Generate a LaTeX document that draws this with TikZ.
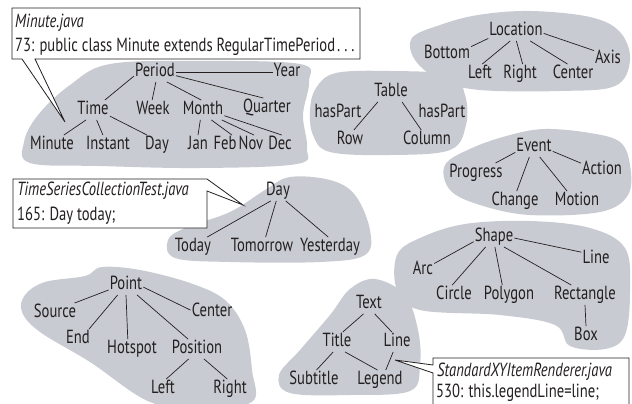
\documentclass[tikz,border=0pt]{standalone}
\usepackage{fontspec}
\setmainfont{PT Sans}[FakeStretch=0.77]
\definecolor{blobgray}{RGB}{201,203,210}
\definecolor{ink}{RGB}{35,31,32}
\begin{document}
\begin{tikzpicture}[x=1pt,y=-1pt,
  every node/.style={font=\fontsize{19}{23}\selectfont, text=ink, inner xsep=1pt, inner ysep=1pt, text height=13.5pt, text depth=4pt},
  blob/.style={fill=blobgray},
  edge/.style={line width=0.7pt, draw=ink},
  callout/.style={fill=white, draw=ink, line width=0.8pt, line join=miter},
  boxtext/.style={anchor=base west, inner sep=0pt}]
\useasboundingbox (0,0) rectangle (632,404);

% ---------- blobs ----------
\fill[blob] plot[smooth cycle, tension=0.6] coordinates {(110,64) (200,61) (300,64) (309,82) (303,115) (307,148) (297,164) (200,168) (100,166) (30,163) (24,142) (38,115) (70,85)};
\fill[blob] plot[smooth cycle, tension=0.6] coordinates {(316,88) (336,73) (390,71) (450,75) (465,95) (466,125) (450,150) (390,155) (330,152) (313,135) (310,110)};
\fill[blob] plot[smooth cycle, tension=0.6] coordinates {(412,38) (440,25) (478,15) (530,11) (590,17) (620,32) (630,60) (615,86) (560,91) (480,90) (440,80) (415,60)};
\fill[blob] plot[smooth cycle, tension=0.6] coordinates {(445,165) (472,148) (510,135) (545,129) (590,133) (620,142) (630,165) (628,195) (600,212) (530,215) (480,205) (450,190)};
\fill[blob] plot[smooth cycle, tension=0.6] coordinates {(168,240) (185,228) (230,212) (265,190) (290,177) (330,180) (355,195) (370,230) (365,255) (320,262) (230,262) (175,258)};
\fill[blob] plot[smooth cycle, tension=0.6] coordinates {(25,295) (45,282) (85,276) (102,267) (140,270) (190,283) (225,300) (245,330) (252,370) (252,402) (200,406) (150,402) (90,362) (40,332) (22,312)};
\fill[blob] plot[smooth cycle, tension=0.6] coordinates {(397,255) (420,238) (465,224) (530,221) (590,228) (625,248) (630,290) (625,335) (605,349) (570,346) (555,325) (500,315) (420,310) (397,290)};
\fill[blob] plot[smooth cycle, tension=0.6] coordinates {(350,289) (375,279) (405,295) (418,330) (420,365) (410,391) (350,395) (290,393) (279,375) (300,350) (330,315)};

% ---------- Period tree ----------
\node (Period) at (155,72) {Period};
\node (Year) at (287,72) {Year};
\node (Time) at (93,110) {Time};
\node (Week) at (153,110) {Week};
\node (Month) at (203,110) {Month};
\node (Quarter) at (267,108) {Quarter};
\node (Minute) at (52,145) {Minute};
\node (Instant) at (108,145) {Instant};
\node (DayP) at (157,145) {Day};
\node (Jan) at (198,145) {Jan};
\node (Feb) at (225,145) {Feb};
\node (Nov) at (251,145) {Nov};
\node (Dec) at (280,145) {Dec};
\draw[edge] (Period.east) -- (Year.west);
\draw[edge] (Period.-169) -- (Time.40);
\draw[edge] (Period.-85) -- (Week.95);
\draw[edge] (Period.-40) -- (Month.100);
\draw[edge] (Period.-10) -- (Quarter.110);
\draw[edge] (Time.-125) -- (Minute.40);
\draw[edge] (Time.-70) -- (Instant.117);
\draw[edge] (Time.-20) -- (DayP.135);
\draw[edge] (Month.-105) -- (Jan.90);
\draw[edge] (Month.-50) -- (Feb.55);
\draw[edge] (Month.-28) -- (Nov.73);
\draw[edge] (Month.-15) -- (Dec.80);

% ---------- Table tree ----------
\node (Table) at (391,92) {Table};
\node (hasPartL) at (338,113) {hasPart};
\node (hasPartR) at (442,113) {hasPart};
\node (Row) at (350,140) {Row};
\node (Column) at (427,140) {Column};
\draw[edge] (Table.-143) -- (Row.69);
\draw[edge] (Table.-42) -- (Column.120);

% ---------- Location tree ----------
\node (Location) at (516,31) {Location};
\node (Bottom) at (447,54) {Bottom};
\node (Axis) at (608,59) {Axis};
\node (LLeft) at (480,74) {Left};
\node (LRight) at (520,74) {Right};
\node (LCenter) at (573,74) {Center};
\draw[edge] (Location.-165) -- (Bottom.17);
\draw[edge] (Location.-120) -- (LLeft.77);
\draw[edge] (Location.-88) -- (LRight.75);
\draw[edge] (Location.-35) -- (LCenter.119);
\draw[edge] (Location.-5) -- (Axis.149);

% ---------- Event tree ----------
\node (Event) at (534,147) {Event};
\node (Progress) at (476,173) {Progress};
\node (Action) at (602,170) {Action};
\node (Change) at (515,201) {Change};
\node (Motion) at (577,201) {Motion};
\draw[edge] (Event.-164) -- (Progress.27);
\draw[edge] (Event.-115) -- (Change.80);
\draw[edge] (Event.-60) -- (Motion.135);
\draw[edge] (Event.-13) -- (Action.162);

% ---------- Day tree ----------
\node (DayT) at (278,191) {Day};
\node (Today) at (193,247) {Today};
\node (Tomorrow) at (262,247) {Tomorrow};
\node (Yesterday) at (330,247) {Yesterday};
\draw[edge] (DayT.-126) -- (Today.35);
\draw[edge] (DayT.-100) -- (Tomorrow.70);
\draw[edge] (DayT.-52) -- (Yesterday.100);

% ---------- Point tree ----------
\node (Point) at (126,285) {Point};
\node (Source) at (55,313) {Source};
\node (PCenter) at (212,312) {Center};
\node (End) at (78,339) {End};
\node (Hotspot) at (132,349) {Hotspot};
\node (Position) at (197,349) {Position};
\node (PLeft) at (163,389) {Left};
\node (PRight) at (230,389) {Right};
\draw[edge] (Point.-164) -- (Source.27);
\draw[edge] (Point.-130) -- (End.42);
\draw[edge] (Point.-90) -- (Hotspot.113);
\draw[edge] (Point.-42) -- (Position.132);
\draw[edge] (Point.-7) -- (PCenter.175);
\draw[edge] (Position.-130) -- (PLeft.72);
\draw[edge] (Position.-55) -- (PRight.105);

% ---------- Shape tree ----------
\node (Shape) at (494,237) {Shape};
\node (SLine) at (596,259) {Line};
\node (Arc) at (423,270) {Arc};
\node (Circle) at (454,295) {Circle};
\node (Polygon) at (509,295) {Polygon};
\node (Rectangle) at (585,295) {Rectangle};
\node (Box) at (586,336) {Box};
\draw[edge] (Shape.-167) -- (Arc.30);
\draw[edge] (Shape.-130) -- (Circle.100);
\draw[edge] (Shape.-85) -- (Polygon.124);
\draw[edge] (Shape.-45) -- (Rectangle.144);
\draw[edge] (Shape.-3) -- (SLine.155);
\draw[edge] (Rectangle.-90) -- (Box.90);

% ---------- Text tree ----------
\node (Text) at (369,304) {Text};
\node (Title) at (337,342) {Title};
\node (TLine) at (397,342) {Line};
\node (Subtitle) at (314,380) {Subtitle};
\node (Legend) at (380,380) {Legend};
\draw[edge] (Text.-119) -- (Title.60);
\draw[edge] (Text.-60) -- (TLine.117);
\draw[edge] (Title.-111) -- (Subtitle.76);
\draw[edge] (Title.-51) -- (Legend.104);
\draw[edge] (TLine.-111) -- (Legend.60);

% ---------- callouts ----------
\filldraw[callout] (12,8) -- (360,8) -- (360,59) -- (35,59) -- (65,122) -- (22,59) -- (12,59) -- cycle;
\node[boxtext] (c1a) at (15,28) {\itshape Minute.java};
\node[boxtext] (c1b) at (15,52) {73: public class Minute extends RegularTimePeriod\kern2pt.\kern4pt.\kern4pt.};

\filldraw[callout] (13,179) -- (207,179) -- (243,205) -- (207,191) -- (207,228) -- (13,228) -- cycle;
\node[boxtext] (c2a) at (17,195) {\itshape TimeSeriesCollectionTest.java};
\node[boxtext] (c2b) at (17,220) {165: Day today;};

\filldraw[callout] (629,406) -- (629,358) -- (433,358) -- (433,365) -- (395,360) -- (433,373) -- (433,406);
\node[boxtext] (c3a) at (437,376) {\itshape StandardXYItemRenderer.java};
\node[boxtext] (c3b) at (436,397) {530: this.legendLine=line;};
\end{tikzpicture}
\end{document}
